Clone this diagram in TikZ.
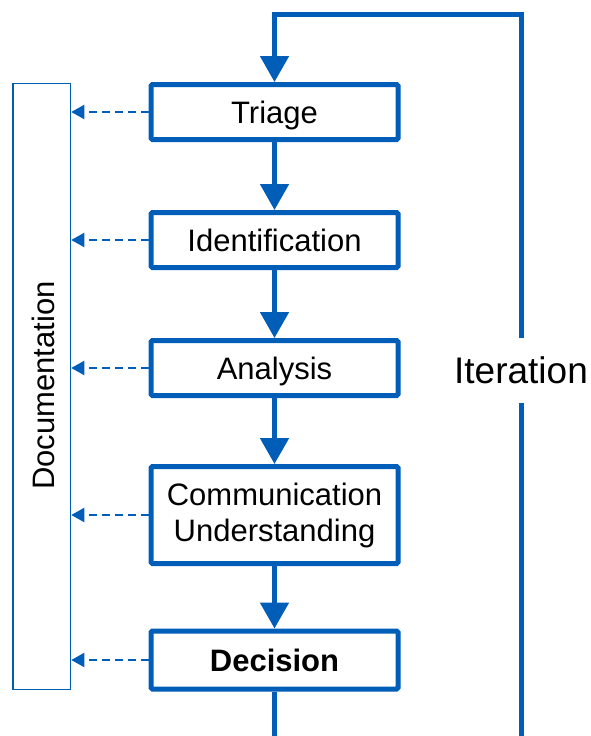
\documentclass[tikz,border=0pt]{standalone}
\usepackage{fontspec}
\setmainfont{Liberation Sans}
\usetikzlibrary{arrows.meta}
\definecolor{flowblue}{RGB}{0,94,184}
\begin{document}
\begin{tikzpicture}[x=1pt,y=-1pt,
  stepbox/.style={draw=flowblue, line width=5pt, fill=white, rounded corners=1.5pt,
    minimum width=247pt, minimum height=55pt, inner sep=0pt, align=center,
    font=\fontsize{31}{35}\selectfont},
  oneline/.style={text height=22.5pt, text depth=0pt},
  docbox/.style={draw=flowblue, line width=1.5pt, minimum width=57.5pt, minimum height=606pt, inner sep=0pt},
  flowarrow/.style={draw=flowblue, line width=5pt, -{Triangle[length=26pt,width=28pt]}},
  dasharrow/.style={draw=flowblue, line width=2pt, dash pattern=on 8pt off 5pt,
    -{Triangle[length=13pt,width=14pt]}},
  looppath/.style={draw=flowblue, line width=5pt, line join=miter, -{Triangle[length=26pt,width=28pt]}},
  looplabel/.style={fill=white, inner xsep=2pt, minimum height=65pt, font=\fontsize{37}{40}\selectfont}
]
\useasboundingbox (0,0) rectangle (591,736);
\clip (0,0) rectangle (591,736);

\node[stepbox, oneline] (triage) at (274.5,112) {Triage};
\node[stepbox, oneline] (ident) at (274.5,240) {Identification};
\node[stepbox, oneline] (analysis) at (274.5,368) {Analysis};
\node[stepbox, minimum height=97pt] (comm) at (274.5,515) {Communication\\[1pt]Understanding};
\node[stepbox, oneline, minimum height=58pt, font=\fontsize{31}{35}\selectfont\bfseries] (decision) at (274.5,660) {Decision};

\node[docbox] (doc) at (41.75,386.5) {};
\node[rotate=90, font=\fontsize{31}{35}\selectfont, inner sep=0pt] (doclabel) at (43,385.5) {Documentation};

\draw[flowarrow] (triage.south) -- (ident.north);
\draw[flowarrow] (ident.south) -- (analysis.north);
\draw[flowarrow] (analysis.south) -- (comm.north);
\draw[flowarrow] (comm.south) -- (decision.north);

\foreach \n in {triage,ident,analysis,comm,decision}
  \draw[dasharrow] (\n.west) -- (doc.east |- \n.west);

\coordinate (lb) at (274.5,739.5);
\coordinate (rb) at (521,739.5);
\coordinate (rt) at (521,14.5);
\coordinate (lt) at (274.5,14.5);
\draw[looppath] (decision.south) -- (lb) -- (rb) -- (rt) -- (lt) -- (triage.north);

\node[looplabel] (iter) at (521,370.5) {Iteration};
\end{tikzpicture}
\end{document}
